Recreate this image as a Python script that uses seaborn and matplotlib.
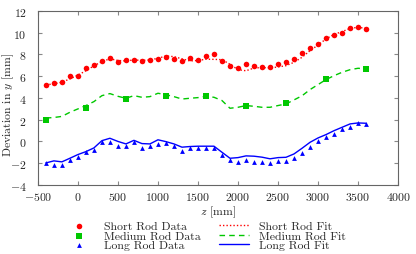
import numpy as np
import pandas as pd
import matplotlib
matplotlib.use("Agg")
from matplotlib import pyplot as plt
import seaborn as sns

# z positions [mm]
z_short = list(range(-400, 3700, 100))
z_medium = list(range(-400, 3700, 500))
z_long = list(range(-400, 3700, 100))
z_fit = list(range(-400, 3700, 100))

short_data = [5.20, 5.35, 5.50, 6.02, 6.05, 6.73, 7.07, 7.43, 7.65, 7.28,
              7.46, 7.52, 7.37, 7.46, 7.58, 7.74, 7.56, 7.40, 7.65, 7.52,
              7.83, 8.05, 7.37, 6.97, 6.73, 7.10, 6.91, 6.85, 6.88, 7.10,
              7.34, 7.56, 8.11, 8.63, 8.93, 9.52, 9.79, 9.98, 10.41, 10.53,
              10.38]
short_fit = [5.20, 5.30, 5.45, 5.75, 6.10, 6.50, 6.95, 7.35, 7.60, 7.45,
             7.40, 7.50, 7.45, 7.50, 7.65, 7.86, 7.80, 7.60, 7.40, 7.45,
             7.56, 7.55, 7.52, 7.10, 6.60, 6.50, 6.75, 6.80, 6.76, 6.85,
             6.97, 7.28, 7.74, 8.35, 8.87, 9.43, 9.85, 10.10, 10.40, 10.50,
             10.40]

medium_data = [1.95, 3.08, 3.91, 4.21, 4.18, 3.26, 3.54, 5.72, 6.64]
medium_fit = [2.15, 2.20, 2.30, 2.68, 2.99, 3.30, 3.66, 4.21, 4.40, 4.15,
              3.97, 4.21, 4.06, 4.12, 4.43, 4.30, 4.12, 3.90, 3.97, 4.03,
              4.15, 4.06, 3.76, 3.05, 3.14, 3.30, 3.23, 3.14, 3.14, 3.30,
              3.45, 3.82, 4.20, 4.77, 5.23, 5.69, 6.05, 6.36, 6.60, 6.73,
              6.67]

long_data = [-2.00, -2.16, -2.13, -1.73, -1.40, -1.00, -0.78, -0.08, -0.08, -0.38,
             -0.38, -0.08, -0.57, -0.38, -0.24, -0.18, -0.44, -0.90, -0.63, -0.60,
             -0.60, -0.60, -1.27, -1.73, -1.91, -1.73, -1.88, -1.88, -2.00, -1.79,
             -1.76, -1.52, -1.06, -0.48, 0.01, 0.38, 0.69, 1.12, 1.36, 1.70,
             1.61]
long_fit = [-1.98, -1.79, -1.88, -1.55, -1.21, -0.94, -0.60, 0.07, 0.29, 0.00,
            -0.23, 0.10, -0.20, -0.23, 0.15, -0.02, -0.23, -0.53, -0.47, -0.44,
            -0.44, -0.44, -1.00, -1.55, -1.49, -1.33, -1.36, -1.45, -1.60, -1.49,
            -1.46, -1.15, -0.63, -0.08, 0.32, 0.63, 0.99, 1.30, 1.61, 1.70,
            1.67]

red = "#ff0000"
green = "#00c800"
blue = "#0000ff"

sns.set_style("ticks")
plt.rcParams["font.family"] = "serif"
plt.rcParams["font.serif"] = ["cmr10", "DejaVu Serif"]
plt.rcParams["mathtext.fontset"] = "cm"
plt.rcParams["axes.formatter.use_mathtext"] = True
plt.rcParams["axes.unicode_minus"] = True

fig = plt.figure(figsize=(4.16, 2.55), dpi=100)
ax = fig.add_axes([0.091, 0.271, 0.866, 0.682])

sns.scatterplot(x=z_short, y=short_data, ax=ax, color=red, marker="o", s=16,
                linewidth=0, label="Short Rod Data")
sns.scatterplot(x=z_medium, y=medium_data, ax=ax, color=green, marker="s", s=14,
                linewidth=0, label="Medium Rod Data")
sns.scatterplot(x=z_long, y=long_data, ax=ax, color=blue, marker="^", s=12,
                linewidth=0, label="Long Rod Data")
sns.lineplot(x=z_fit, y=short_fit, ax=ax, color=red, linestyle=(0, (1, 1.5)),
             linewidth=1.0, label="Short Rod Fit")
sns.lineplot(x=z_fit, y=medium_fit, ax=ax, color=green, linestyle=(0, (4, 3)),
             linewidth=1.0, label="Medium Rod Fit")
sns.lineplot(x=z_fit, y=long_fit, ax=ax, color=blue, linestyle="-",
             linewidth=1.0, label="Long Rod Fit")

ax.set_xlim(-500, 4000)
ax.set_ylim(-4, 12)
ax.set_xticks(np.arange(-500, 4001, 500))
ax.set_yticks(np.arange(-4, 13, 2))
ax.tick_params(direction="in", top=True, right=True, labelsize=8.5, length=3,
               color="#888888")
ax.tick_params(axis="y", pad=8)
ax.tick_params(axis="x", pad=4)
for sp in ax.spines.values():
    sp.set_color("#666666")
    sp.set_linewidth(0.8)
ax.set_xlabel("$z$ [mm]", fontsize=8.5, labelpad=1)
ax.set_ylabel("Deviation in $y$ [mm]", fontsize=8.5)
ax.yaxis.set_label_coords(-0.062, 0.466)

handles, labels = ax.get_legend_handles_labels()
ax.get_legend().remove()
fig.legend(handles, labels, ncol=2, frameon=False, fontsize=8.5,
           loc="upper left", bbox_to_anchor=(0.153, 0.13),
           handlelength=2.55, columnspacing=1.6, labelspacing=-0.05,
           handletextpad=0.85, borderaxespad=0, borderpad=0)

fig.savefig("out.png", dpi=100)
